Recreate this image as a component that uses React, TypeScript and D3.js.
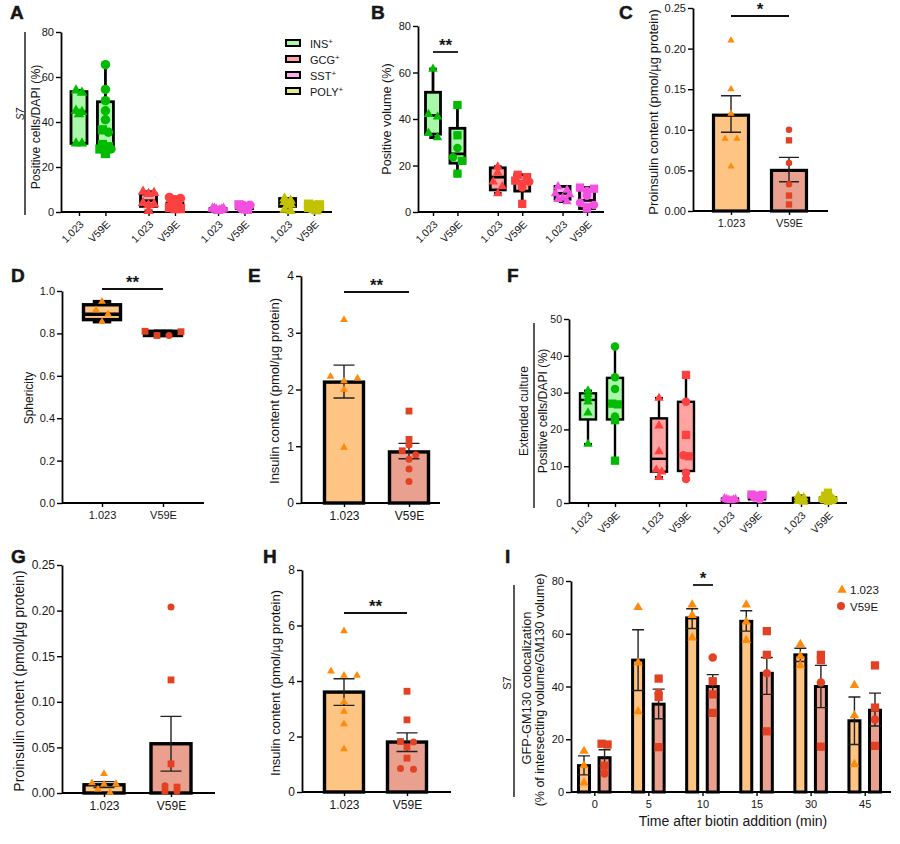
import { useEffect, useRef } from "react";
import * as d3 from "d3";

// values; one entry per condition
type Values = number[][];

const PAIRS = ["1.023", "V59E"];
const A_LABELS = [...PAIRS, ...PAIRS, ...PAIRS, ...PAIRS];
const B_LABELS = [...PAIRS, ...PAIRS, ...PAIRS];
const I_TIMES = ["0", "5", "10", "15", "30", "45"];
const LEGEND = ["INS", "GCG", "SST", "POLY"];

const A_TRI = [[54, 53, 45, 44.5, 43.5, 30.5, 30.5], [], [9, 8.5, 8, 4, 3.5, 3, 0.5], [], [1.5, 1.5, 1.5, 1, 1, 0.8, 0.5], [], [6, 5, 4.5, 3.5, 3, 1, 0.5], []];
const A_CIR = [[], [65.5, 54.5, 49.5, 45, 41, 35.5, 28], [], [6.5, 6, 5.5], [], [3, 2.5, 2, 1.5], [], [2.5, 2, 1.5, 1]];
const A_SQU = [[], [36.5, 30, 29, 28, 27, 26], [], [4, 3, 2, 1.5, 1.5], [], [3.2, 2.8, 2, 1.2], [], [3.5, 3.2, 3, 2, 1]];
const A_BOX = [[30.5, 44.5, 53.5], [29.5, 36, 49], [2.5, 5, 8], [1, 2.5, 4], [0.3, 1, 1.5], [1.5, 2.2, 3], [2.5, 4, 6], [1, 2, 3.5]];

const B_TRI = [[61.5, 42, 41, 34, 32], [], [19.5, 17, 13, 11, 8], [], [11, 9.5, 8, 7.5, 6, 5.5, 4.5], []];
const B_CIR = [[], [27.5, 23.5], [], [13, 12, 10.5], [], [9, 7, 4, 3]];
const B_SQU = [[], [46, 33, 22, 16.5], [], [16, 15, 13.5, 3.5], [], [10.5, 10, 2, 1.5]];
const B_BOX = [[33.5, 41.5, 51.5], [21, 25, 36], [9.5, 15, 19], [9, 13, 16], [5.5, 8, 11], [1.5, 5, 10]];

const C_TRI = [[0.21, 0.15, 0.12, 0.089, 0.089, 0.055], []];
const C_CIR = [[], [0.1, 0.059, 0.033]];
const C_SQU = [[], [0.087, 0.019, 0.008]];
const C_MEAN = [0.118, 0.05];
const C_ERR = [[0.097, 0.142], [0.036, 0.066]];

const D_TRI = [[0.95, 0.91, 0.89, 0.855], []];
const D_CIR = [[], [0.79]];
const D_SQU = [[], [0.81, 0.808, 0.79]];
const D_BOX = [[0.865, 0.89, 0.935], [0.79, 0.8, 0.81]];

const E_TRI = [[3.23, 2.23, 2.2, 2.15, 2.0, 0.98], []];
const E_CIR = [[], [1.02, 0.85, 0.77, 0.6, 0.38]];
const E_SQU = [[], [1.62, 1.12, 0.92]];
const E_MEAN = [2.13, 0.9];
const E_ERR = [[1.85, 2.43], [0.78, 1.05]];

const F_TRI = [[30.5, 29.5, 28.5, 27.5, 24.5, 16], [], [28.5, 21, 14, 9, 8.5, 7], [], [1.2, 1, 1, 0.9, 0.8, 0.7], [], [2, 1.5, 1.2, 0.8, 0.5, 0.3], []];
const F_CIR = [[], [42.5, 34.2, 31, 23.5], [], [27.5, 13, 8.2, 6.5], [], [1.5, 1], [], [1.5, 1, 0.8]];
const F_SQU = [[], [27, 26.8, 22.5, 11.5], [], [34.8, 18.5, 12.7], [], [2.3, 2.2, 2, 1.8], [], [2.8, 2, 0.6]];
const F_BOX = [[22.7, 28, 29.8], [22.7, 27, 34], [8.5, 12, 23], [8.7, 13, 27.5], [0.3, 0.8, 1.2], [1, 1.8, 2.3], [0.2, 0.8, 1.4], [0.5, 1, 1.5]];

const G_TRI = [[0.021, 0.011, 0.01, 0.0095, 0.004, 0.0005], []];
const G_CIR = [[], [0.204, 0.008, 0.002]];
const G_SQU = [[], [0.124, 0.032, 0.0065, 0.002]];
const G_MEAN = [0.009, 0.054];
const G_ERR = [[0.006, 0.0125], [0.024, 0.084]];

const H_TRI = [[5.8, 4.35, 4.2, 4.2, 3.25, 2.9, 2.45, 1.55], []];
const H_CIR = [[], [1.8, 0.85, 0.82]];
const H_SQU = [[], [3.63, 2.6, 1.82, 1.62, 1.22]];
const H_MEAN = [3.6, 1.8];
const H_ERR = [[3.12, 4.08], [1.46, 2.13]];

const I_TRI = [[15.5, 10, 3.5], [], [70, 49, 30.5], [], [71, 67, 58.5], [], [71, 64.5, 57.5], [], [56, 51.5, 48], [], [40.5, 29, 10.5], []];
const I_CIR = [[], [7], [], [37.5], [], [51], [], [45], [], [41.5], [], [27.5]];
const I_SQU = [[], [18.3, 18, 10], [], [43, 36, 17], [], [42, 37, 30], [], [61, 52, 23], [], [52, 50, 17.2], [], [48, 32, 17.5]];
const I_MEAN = [10, 13, 50, 33.3, 66, 40, 64.7, 45, 52, 40, 27, 31];
const I_ERR = [[6.5, 13.7], [10, 16], [38.5, 61.5], [27.8, 39], [62, 69.5], [38, 44.5], [61, 68.7], [37, 51], [49.5, 54.5], [32, 48], [18, 36], [25, 37.5]];

const GREEN = ["#00bb00", "#a9f7a9"];
const RED = ["#ff4040", "#ffa3a3"];
const PINK = ["#f350e0", "#f9aef0"];
const OLIVE = ["#c2c200", "#e8e88e"];
const ORANGE = ["#ff8a0c", "#fec484"];
const BRICK = ["#e24222", "#eaa08f"];
const INK = "#161616";
const FONT = "'Liberation Sans', Arial, sans-serif";

type G = d3.Selection<SVGGElement, unknown, null, undefined>;

// Prism-style scatter: points with about the same height sit side by side,
// highest on the outside, and a crowded row gets squeezed into maxWidth
function spread(ys: number[], near: number, step: number, maxWidth: number) {
  const order = d3.range(ys.length).sort((a, b) => ys[b] - ys[a]);
  const dx = ys.map(() => 0);
  let i = 0;
  while (i < order.length) {
    let j = i + 1;
    while (j < order.length && ys[order[i]] - ys[order[j]] < near) j++;
    const n = j - i;
    const s = n > 1 ? Math.min(step, maxWidth / (n - 1)) : 0;
    const slots = d3.range(n).map((k) => (k - (n - 1) / 2) * s);
    // outermost slots first, alternating left/right
    const seq = d3.range(n).sort((a, b) => Math.abs(slots[b]) - Math.abs(slots[a]) || a - b);
    for (let k = 0; k < n; k++) dx[order[i + k]] = slots[seq[k]];
    i = j;
  }
  return dx;
}

interface Panel {
  x0: number; xEnd: number; yTop: number; yBottom: number;
  domain: number; ticks: number[]; tickFmt: string; tickSize?: number; xTickSize?: number;
  first: number; last: number; gap: number;
  labels: string[]; tickAt?: number[]; rotate?: boolean;
  palette: string[][];
  tri: Values; cir: Values; squ: Values;
  marker: number; near: number; step: number; maxWidth?: number;
  box?: number[][]; boxW?: number; boxStroke?: number;
  mean?: number[]; err?: number[][]; barW?: number; barStroke?: number; capW?: number;
}

function drawPanel(svg: G, p: Panel) {
  const g = svg.append("g");
  const y = d3.scaleLinear().domain([0, p.domain]).range([p.yBottom, p.yTop]);
  const n = p.labels.length;
  const unit = (i: number) => p.gap > 0 ? Math.floor(i / 2) * p.gap + (i % 2) : i;
  const cond = p.mean ? p.mean.length : p.tri.length;
  const x = d3.scaleLinear().domain([0, unit(cond - 1)]).range([p.first, p.last]);
  const color = (i: number) => p.palette[i % p.palette.length];

  // bars
  p.mean?.forEach((m, i) => {
    const w = p.barW!;
    g.append("rect").attr("x", x(unit(i)) - w / 2).attr("y", y(m)).attr("width", w)
      .attr("height", y(0) - y(m)).attr("fill", color(i)[1])
      .attr("stroke", "#000").attr("stroke-width", p.barStroke!);
  });

  // boxes
  p.box?.forEach((b, i) => {
    const cx = x(unit(i));
    const w = p.boxW!;
    const all = [...p.tri[i], ...p.cir[i], ...p.squ[i]];
    const [lo, hi] = d3.extent(all) as [number, number];
    g.append("line").attr("x1", cx).attr("x2", cx).attr("y1", y(lo)).attr("y2", y(hi))
      .attr("stroke", "#000").attr("stroke-width", p.boxStroke!);
    [lo, hi].forEach((v) => {
      g.append("line").attr("x1", cx - w / 4).attr("x2", cx + w / 4).attr("y1", y(v)).attr("y2", y(v))
        .attr("stroke", "#000").attr("stroke-width", p.boxStroke!);
    });
    g.append("rect").attr("x", cx - w / 2).attr("y", y(b[2])).attr("width", w)
      .attr("height", y(b[0]) - y(b[2])).attr("fill", color(i)[1])
      .attr("stroke", "#000").attr("stroke-width", p.boxStroke!);
    g.append("line").attr("x1", cx - w / 2).attr("x2", cx + w / 2).attr("y1", y(b[1])).attr("y2", y(b[1]))
      .attr("stroke", "#000").attr("stroke-width", p.boxStroke!);
  });

  // axes
  const yAxis = g.append("g").attr("transform", `translate(${p.x0},0)`)
    .call(d3.axisLeft(y).tickValues(p.ticks).tickSize(5).tickSizeOuter(0).tickPadding(2)
      .tickFormat((d) => d3.format(p.tickFmt)(d as number)));
  const tickVals = p.tickAt ?? d3.range(n).map(unit);
  const xAxisScale = d3.scaleLinear().domain(x.domain()).range(x.range());
  const xAxis = g.append("g").attr("transform", `translate(0,${p.yBottom})`)
    .call(d3.axisBottom(xAxisScale).tickValues(tickVals).tickSize(4).tickSizeOuter(0).tickPadding(4)
      .tickFormat((_, i) => p.labels[i]));
  xAxis.select(".domain").attr("d", `M${p.x0},0H${p.xEnd}`);
  [yAxis, xAxis].forEach((a) => {
    a.select(".domain").attr("stroke", "#000").attr("stroke-width", 1.8);
    a.selectAll(".tick line").attr("stroke", "#000").attr("stroke-width", 1.4);
    a.selectAll("text").attr("font-family", FONT).attr("fill", INK);
  });
  yAxis.selectAll("text").attr("font-size", p.tickSize ?? 11);
  xAxis.selectAll("text").attr("font-size", p.xTickSize ?? p.tickSize ?? 11);
  if (p.rotate) {
    xAxis.selectAll("text").attr("x", 0).attr("y", 0).attr("dy", 0).attr("font-size", 10.5)
      .attr("text-anchor", "end").attr("transform", "translate(5,13) rotate(-45)");
  }

  // error bars
  p.err?.forEach((e, i) => {
    const cx = x(unit(i));
    const c = p.capW! / 2;
    g.append("path").attr("d", `M${cx},${y(e[0])}V${y(e[1])}M${cx - c},${y(e[0])}H${cx + c}M${cx - c},${y(e[1])}H${cx + c}`)
      .attr("fill", "none").attr("stroke", "#222").attr("stroke-width", 1.4);
  });

  // points
  const m = p.marker;
  const triangle = d3.symbol(d3.symbolTriangle, (Math.sqrt(3) / 4) * m * m * 1.25)();
  const square = d3.symbol(d3.symbolSquare, m * m * 0.95)();
  const circle = d3.symbol(d3.symbolCircle, (Math.PI / 4) * m * m)();
  d3.range(p.tri.length).forEach((i) => {
    const pts = [
      ...p.tri[i].map((v) => ({ v, d: triangle })),
      ...p.squ[i].map((v) => ({ v, d: square })),
      ...p.cir[i].map((v) => ({ v, d: circle })),
    ];
    const dx = spread(pts.map((q) => p.yBottom - y(q.v)), p.near, p.step, p.maxWidth ?? 60);
    g.append("g").selectAll("path").data(pts).join("path")
      .attr("d", (q) => q.d)
      .attr("transform", (q, k) => `translate(${x(unit(i)) + dx[k]},${y(q.v)})`)
      .attr("fill", color(i)[0]);
  });
}

function text(svg: G, str: string, x: number, y: number, size: number, opts: { rotate?: boolean; weight?: string; style?: string; anchor?: string } = {}) {
  return svg.append("text").text(str)
    .attr("transform", `translate(${x},${y})${opts.rotate ? " rotate(-90)" : ""}`)
    .attr("text-anchor", opts.anchor ?? "middle")
    .attr("font-family", FONT).attr("font-size", size).attr("fill", INK)
    .attr("font-weight", opts.weight ?? "normal").attr("font-style", opts.style ?? "normal");
}

function rule(svg: G, x1: number, y1: number, x2: number, y2: number, w = 1.4) {
  svg.append("line").attr("x1", x1).attr("y1", y1).attr("x2", x2).attr("y2", y2)
    .attr("stroke", "#111").attr("stroke-width", w);
}

function sig(svg: G, x1: number, x2: number, y: number, stars: string) {
  rule(svg, x1, y, x2, y, 1.8);
  text(svg, stars, (x1 + x2) / 2, y - 1, 17, { weight: "bold" });
}

export default function App() {
  const ref = useRef<SVGSVGElement>(null);

  useEffect(() => {
    if (!ref.current) return;
    d3.select(ref.current).selectAll("*").remove();
    const svg = d3.select(ref.current).append("g") as unknown as G;
    const fourColors = [GREEN, GREEN, RED, RED, PINK, PINK, OLIVE, OLIVE];
    const twoColors = [ORANGE, BRICK];

    // A
    drawPanel(svg, {
      x0: 61, xEnd: 332, yTop: 32, yBottom: 212, domain: 80, ticks: [0, 20, 40, 60, 80], tickFmt: "d",
      first: 79, last: 314, gap: 2.63, labels: A_LABELS, rotate: true, palette: fourColors,
      tri: A_TRI, cir: A_CIR, squ: A_SQU, marker: 9.5, near: 3, step: 6, maxWidth: 11,
      box: A_BOX, boxW: 16, boxStroke: 2.8,
    });
    rule(svg, 25, 32, 25, 215);
    text(svg, "S7", 24, 114, 10, { rotate: true, style: "italic" });
    text(svg, "Positive cells/DAPI (%)", 40, 127, 12.2, { rotate: true });
    LEGEND.forEach((name, i) => {
      const ly = 43 + i * 16;
      svg.append("rect").attr("x", 286).attr("y", ly - 3).attr("width", 14).attr("height", 6)
        .attr("fill", [GREEN, RED, PINK, OLIVE][i][1]).attr("stroke", "#000").attr("stroke-width", 2);
      const t = svg.append("text").attr("x", 310).attr("y", ly + 5)
        .attr("font-family", FONT).attr("font-size", 11).attr("fill", INK);
      t.append("tspan").text(name);
      t.append("tspan").text("+").attr("dy", -4).attr("font-size", 8);
    });

    // B
    drawPanel(svg, {
      x0: 418, xEnd: 604, yTop: 26, yBottom: 212, domain: 80, ticks: [0, 20, 40, 60, 80], tickFmt: "d",
      first: 433, last: 587, gap: 2.65, labels: B_LABELS, rotate: true, palette: fourColors,
      tri: B_TRI, cir: B_CIR, squ: B_SQU, marker: 8.5, near: 5, step: 9, maxWidth: 14,
      box: B_BOX, boxW: 15, boxStroke: 2.8,
    });
    text(svg, "Positive volume (%)", 391, 119, 12.6, { rotate: true });
    sig(svg, 433, 458, 52, "**");

    // C
    drawPanel(svg, {
      x0: 693, xEnd: 828, yTop: 8, yBottom: 211, domain: 0.25, ticks: [0, 0.05, 0.1, 0.15, 0.2, 0.25], tickFmt: ".2f",
      first: 731, last: 789, gap: 0, labels: PAIRS, palette: twoColors,
      tri: C_TRI, cir: C_CIR, squ: C_SQU, marker: 6.5, near: 4, step: 12,
      mean: C_MEAN, err: C_ERR, barW: 35, barStroke: 3.2, capW: 20,
    });
    text(svg, "Proinsulin content (pmol/µg protein)", 658, 112, 13, { rotate: true });
    sig(svg, 731, 789, 16, "*");

    // D
    drawPanel(svg, {
      x0: 62, xEnd: 204, yTop: 291, yBottom: 503, domain: 1, ticks: [0, 0.2, 0.4, 0.6, 0.8, 1], tickFmt: ".1f",
      first: 102, last: 163, gap: 0, labels: PAIRS, palette: twoColors,
      tri: D_TRI, cir: D_CIR, squ: D_SQU, marker: 7, near: 5, step: 12,
      box: D_BOX, boxW: 37, boxStroke: 3.4,
    });
    text(svg, "Sphericity", 33, 398, 12, { rotate: true });
    sig(svg, 102, 163, 289, "**");

    // E
    drawPanel(svg, {
      x0: 301, xEnd: 440, yTop: 276, yBottom: 503, domain: 4, ticks: [0, 1, 2, 3, 4], tickFmt: "d", tickSize: 12,
      first: 344, last: 409, gap: 0, labels: PAIRS, palette: twoColors,
      tri: E_TRI, cir: E_CIR, squ: E_SQU, marker: 7, near: 5, step: 13.5,
      mean: E_MEAN, err: E_ERR, barW: 39, barStroke: 3.4, capW: 21,
    });
    text(svg, "Insulin content (pmol/µg protein)", 279, 391, 13, { rotate: true });
    sig(svg, 344, 409, 292, "**");

    // F
    drawPanel(svg, {
      x0: 569, xEnd: 847, yTop: 319, yBottom: 503, domain: 50, ticks: [0, 10, 20, 30, 40, 50], tickFmt: "d", tickSize: 10.5,
      first: 588, last: 828, gap: 2.63, labels: A_LABELS, rotate: true, palette: fourColors,
      tri: F_TRI, cir: F_CIR, squ: F_SQU, marker: 8.5, near: 2.5, step: 5.5, maxWidth: 11,
      box: F_BOX, boxW: 16, boxStroke: 2.4,
    });
    rule(svg, 534, 323, 534, 508);
    text(svg, "Extended culture", 528, 411, 12, { rotate: true });
    text(svg, "Positive cells/DAPI (%)", 547, 411, 12.2, { rotate: true });

    // G
    drawPanel(svg, {
      x0: 62, xEnd: 215, yTop: 565, yBottom: 793, domain: 0.25, ticks: [0, 0.05, 0.1, 0.15, 0.2, 0.25], tickFmt: ".2f", tickSize: 12,
      first: 104, last: 171, gap: 0, labels: PAIRS, palette: twoColors,
      tri: G_TRI, cir: G_CIR, squ: G_SQU, marker: 7, near: 3.5, step: 12,
      mean: G_MEAN, err: G_ERR, barW: 40, barStroke: 3.4, capW: 21,
    });
    text(svg, "Proinsulin content (pmol/µg protein)", 24, 681, 14, { rotate: true });

    // H
    drawPanel(svg, {
      x0: 302, xEnd: 451, yTop: 570, yBottom: 792, domain: 8, ticks: [0, 2, 4, 6, 8], tickFmt: "d", tickSize: 12,
      first: 344, last: 407, gap: 0, labels: PAIRS, palette: twoColors,
      tri: H_TRI, cir: H_CIR, squ: H_SQU, marker: 7, near: 5, step: 13,
      mean: H_MEAN, err: H_ERR, barW: 39, barStroke: 3.4, capW: 21,
    });
    text(svg, "Insulin content (pmol/µg protein)", 280, 683, 13, { rotate: true });
    sig(svg, 344, 407, 613, "**");

    // I
    drawPanel(svg, {
      x0: 571, xEnd: 891, yTop: 581, yBottom: 792, domain: 80, ticks: [0, 20, 40, 60, 80], tickFmt: "d",
      first: 584, last: 875, gap: 2.63, labels: I_TIMES, tickAt: d3.range(6).map((i) => i * 2.63 + 0.5), palette: twoColors,
      tri: I_TRI, cir: I_CIR, squ: I_SQU, marker: 8.5, near: 2.5, step: 6,
      mean: I_MEAN, err: I_ERR, barW: 11, barStroke: 3, capW: 12,
    });
    rule(svg, 514, 585, 514, 797);
    text(svg, "S7", 511, 683, 11, { rotate: true });
    text(svg, "GFP-GM130 colocalization", 531, 688, 12.8, { rotate: true });
    text(svg, "(% of intersecting volume/GM130 volume)", 544, 690, 12.5, { rotate: true });
    text(svg, "Time after biotin addition (min)", 733, 826, 14);
    sig(svg, 693, 713, 585, "*");
    svg.append("path").attr("d", d3.symbol(d3.symbolTriangle, 38)()!).attr("transform", "translate(842,590)").attr("fill", ORANGE[0]);
    svg.append("path").attr("d", d3.symbol(d3.symbolCircle, 50)()!).attr("transform", "translate(841,606)").attr("fill", BRICK[0]);
    text(svg, "1.023", 850, 594, 11.5, { anchor: "start" });
    text(svg, "V59E", 850, 611, 11.5, { anchor: "start" });

    // panel letters
    const letters: [string, number, number][] = [
      ["A", 10, 19], ["B", 371, 19], ["C", 619, 19], ["D", 11, 282], ["E", 248, 282],
      ["F", 507, 282], ["G", 11, 563], ["H", 263, 563], ["I", 505, 563],
    ];
    letters.forEach(([l, x, y]) => text(svg, l, x, y, 19, { weight: "bold", anchor: "start" }).attr("stroke", INK).attr("stroke-width", 0.5));
  }, []);

  return <svg ref={ref} width={900} height={844} style={{ position: "absolute", left: 0, top: 0, background: "#fff" }} />;
}
